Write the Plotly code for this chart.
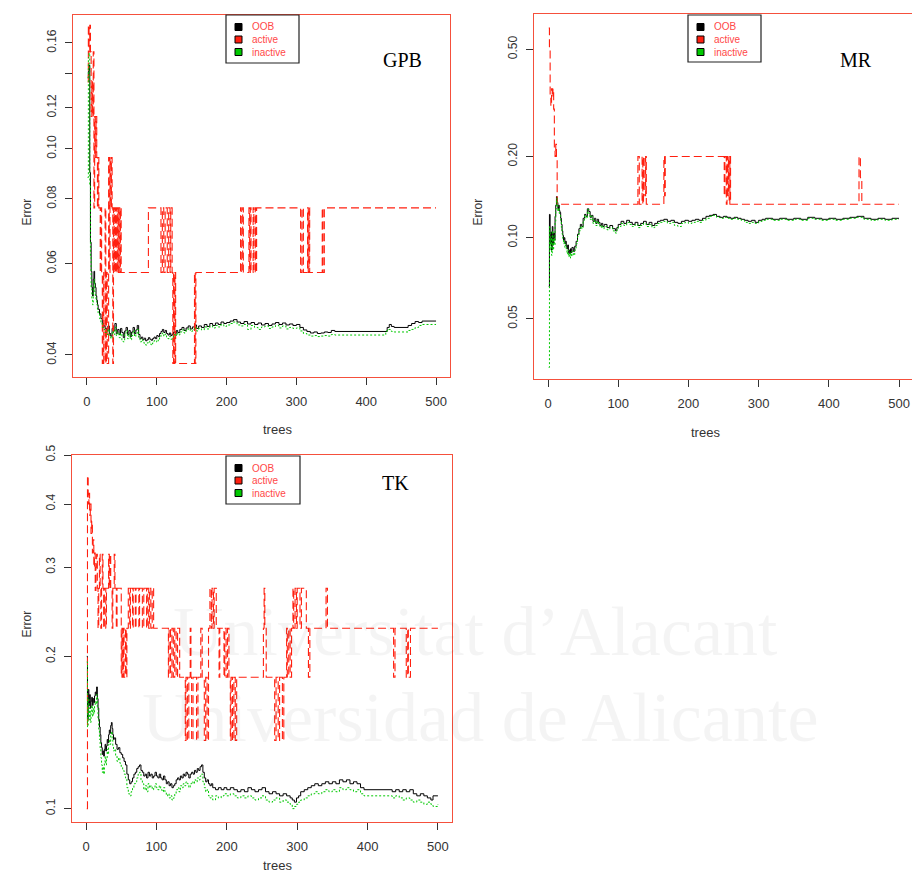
import plotly.graph_objects as go

W, H = 912, 881

# ---------------- data: GPB ----------------
gpb_oob_t = [1, 2, 3, 4, 5, 6, 7, 8, 9, 10, 11, 12, 13, 14, 15, 16, 18, 20, 22, 24, 26, 28, 30, 32, 34, 36, 38, 40,
             42, 44, 46, 48, 50, 52, 54, 56, 58, 60, 62, 64, 66, 68, 70, 72, 74, 76, 78, 80, 82, 84, 86, 88, 90, 92,
             94, 96, 98, 100, 102, 104, 106, 108, 110, 112, 114, 116, 118, 120, 122, 124, 126, 128, 130, 133, 136,
             139, 142, 145, 148, 151, 154, 157, 160, 164, 168, 172, 176, 180, 184, 188, 192, 196, 200, 205, 210,
             215, 220, 225, 230, 235, 240, 245, 250, 255, 260, 265, 270, 275, 280, 285, 290, 295, 300, 305, 310,
             315, 320, 325, 330, 335, 340, 345, 350, 355, 430, 433, 436, 440, 460, 465, 470, 475, 480, 500]
gpb_oob = [.137, .141, .145, .090, .066, .058, .054, .052, .056, .058, .055, .054, .052, .051, .050, .049, .048,
           .047, .046, .0455, .045, .0445, .0455, .044, .0435, .045, .0445, .046, .044, .0448, .0438, .045, .0442,
           .0432, .0445, .0452, .0438, .0446, .0434, .0443, .0452, .0440, .0447, .0456, .0438, .0430, .0433,
           .0428, .0431, .0426, .0428, .0432, .0429, .0427, .0430, .0433, .0430, .0436, .0434, .0440, .0444,
           .0448, .0442, .0446, .0440, .0437, .0441, .0436, .0439, .0443, .0440, .0446, .0442, .0448, .0452,
           .0446, .0451, .0455, .0449, .0453, .0457, .0450, .0455, .0452, .0458, .0454, .0460, .0456, .0461,
           .0458, .0463, .0460, .0462, .0465, .0468, .0463, .0460, .0464, .0459, .0462, .0458, .0461, .0457,
           .0460, .0456, .0459, .0462, .0458, .0461, .0457, .0459, .0456, .0458, .0452, .0447, .0444, .0441,
           .0443, .0440, .0441, .0443, .0442, .0446, .0444, .0452, .0458, .0454, .0452, .0456, .0460, .0464,
           .0462, .0465, .0465]

gpb_act_t = [1, 2, 3, 4, 5, 6, 7, 8, 9, 10, 11, 12, 13, 14, 15, 16, 17, 19, 20, 21, 22, 23, 24, 26, 27, 28, 29,
             31, 32, 33, 34, 35, 36, 37, 38, 39, 40, 41, 42, 43, 44, 45, 46, 47, 48, 49, 88, 106, 108, 110, 112,
             115, 117, 119, 120, 122, 123, 124, 125, 126, 127, 154, 155, 156, 220, 221, 223, 224, 232, 233, 234,
             235, 238, 239, 241, 242, 243, 306, 308, 310, 316, 317, 318, 319, 337, 338, 340, 500]
gpb_act = [.1346, .1731, .1538, .1731, .1538, .1154, .1346, .1154, .1538, .0769, .1154, .0962, .1154, .0962,
           .0769, .0962, .0769, .0577, .0769, .0577, .0385, .0577, .0385, .0769, .0385, .0577, .0385, .0962,
           .0577, .0962, .0769, .0962, .0769, .0385, .0769, .0577, .0769, .0577, .0769, .0577, .0769, .0577,
           .0769, .0577, .0769, .0577, .0769, .0577, .0769, .0577, .0769, .0577, .0769, .0577, .0769, .0577,
           .0385, .0577, .0385, .0577, .0385, .0577, .0385, .0577, .0769, .0577, .0769, .0577, .0769, .0577,
           .0769, .0577, .0769, .0577, .0769, .0577, .0769, .0577, .0769, .0577, .0769, .0577, .0769, .0577,
           .0769, .0577, .0769, .0769]

gpb_ina_t = [1, 2, 3, 4, 5, 6, 7, 8, 9, 10, 11, 12, 13, 14, 15, 16, 18, 20, 22, 24, 26, 28, 30, 32, 34, 36, 38, 40,
             42, 44, 46, 48, 50, 52, 54, 56, 58, 60, 62, 64, 66, 68, 70, 72, 74, 76, 78, 80, 82, 84, 86, 88, 90, 92,
             94, 96, 98, 100, 102, 104, 106, 108, 110, 112, 114, 116, 118, 120, 122, 124, 126, 128, 130, 133, 136,
             139, 142, 145, 148, 151, 154, 157, 160, 164, 168, 172, 176, 180, 184, 188, 192, 196, 200, 205, 210,
             215, 220, 225, 230, 235, 240, 245, 250, 255, 260, 265, 270, 275, 280, 285, 290, 295, 300, 305, 310,
             315, 320, 325, 330, 335, 340, 345, 350, 355, 428, 432, 436, 440, 460, 465, 470, 475, 480, 500]
gpb_ina = [.088, .150, .153, .085, .062, .054, .051, .050, .053, .056, .053, .052, .051, .050, .049, .048, .047,
           .046, .0452, .0448, .0442, .0438, .0448, .0436, .0430, .0444, .0438, .0452, .0436, .0442, .0432, .0440,
           .0425, .0424, .0438, .0446, .0430, .0440, .0428, .0436, .0446, .0434, .0440, .0448, .0432, .0424,
           .0428, .0423, .0420, .0418, .0422, .0425, .0420, .0418, .0422, .0426, .0424, .0428, .0426, .0432,
           .0438, .0441, .0435, .0439, .0433, .0430, .0434, .0429, .0433, .0438, .0435, .0441, .0437, .0443,
           .0447, .0441, .0446, .0450, .0444, .0448, .0452, .0445, .0450, .0447, .0453, .0449, .0455, .0451,
           .0456, .0453, .0458, .0454, .0457, .0460, .0463, .0457, .0455, .0458, .0448, .0456, .0452, .0448,
           .0453, .0455, .0450, .0453, .0456, .0451, .0455, .0449, .0452, .0450, .0451, .0445, .0440, .0437,
           .0435, .0436, .0434, .0435, .0436, .0435, .0438, .0437, .0445, .0448, .0444, .0443, .0446, .0448,
           .0452, .0456, .0458, .0458]

# ---------------- data: MR ----------------
mr_oob_t = [1, 2, 3, 4, 5, 6, 7, 8, 9, 10, 11, 12, 13, 14, 15, 16, 17, 18, 19, 20, 21, 22, 23, 24, 25, 26, 27,
            28, 29, 30, 31, 32, 33, 34, 36, 38, 40, 42, 44, 46, 48, 50, 52, 54, 56, 58, 60, 62, 64, 66, 68, 70,
            72, 74, 76, 78, 80, 84, 88, 92, 96, 98, 100, 104, 108, 112, 116, 120, 124, 128, 132, 136, 140, 144,
            148, 152, 156, 160, 165, 170, 175, 180, 185, 190, 195, 200, 205, 210, 215, 220, 225, 230, 235, 240,
            245, 250, 255, 260, 265, 270, 275, 280, 285, 290, 295, 300, 305, 310, 320, 330, 340, 350, 360, 370,
            380, 390, 400, 410, 420, 430, 440, 450, 460, 470, 480, 490, 500]
mr_oob = [.066, .122, .095, .105, .090, .110, .094, .104, .098, .120, .132, .142, .135, .128, .132, .126, .124,
          .118, .112, .106, .102, .098, .100, .095, .097, .093, .091, .094, .088, .090, .087, .091, .088, .092,
          .089, .093, .097, .103, .108, .112, .110, .118, .122, .120, .128, .125, .119, .121, .115, .118, .113,
          .117, .114, .111, .113, .110, .112, .109, .111, .108, .106, .109, .112, .115, .113, .116, .114, .112,
          .114, .111, .113, .115, .112, .114, .111, .113, .115, .116, .117, .115, .116, .114, .113, .115, .116,
          .115, .116, .117, .116, .118, .120, .121, .122, .120, .119, .120, .119, .118, .119, .118, .117, .116,
          .115, .116, .114, .116, .117, .118, .117, .118, .117, .118, .117, .119, .118, .117, .118, .117, .118,
          .119, .120, .118, .117, .118, .117, .118, .118]

mr_act_t = [1, 2, 3, 4, 5, 6, 7, 8, 9, 10, 11, 12, 13, 128, 130, 134, 135, 136, 138, 139, 140, 165, 166, 167,
            251, 252, 254, 255, 256, 257, 258, 259, 260, 443, 445, 447, 500]
mr_act = [.600, .500, .333, .308, .357, .333, .357, .300, .214, .200, .222, .200, .133, .200, .133, .200, .133,
          .200, .143, .200, .133, .200, .143, .200, .143, .200, .133, .200, .143, .200, .133, .200, .133, .200,
          .167, .133, .133]

mr_ina_t = mr_oob_t
mr_ina = [.033, .110, .090, .100, .086, .106, .090, .100, .094, .115, .128, .140, .132, .125, .129, .123, .121,
          .115, .109, .103, .099, .095, .097, .092, .094, .090, .087, .090, .085, .087, .084, .088, .085, .089,
          .086, .090, .095, .101, .106, .110, .108, .116, .121, .118, .127, .123, .117, .120, .113, .116, .111,
          .115, .112, .109, .111, .108, .110, .107, .109, .106, .104, .107, .110, .113, .111, .114, .112, .110,
          .112, .109, .111, .113, .110, .112, .109, .111, .113, .114, .115, .113, .114, .111, .110, .113, .114,
          .113, .114, .115, .114, .116, .118, .120, .121, .119, .118, .119, .118, .117, .118, .117, .116, .114,
          .113, .114, .113, .115, .116, .117, .116, .117, .116, .117, .116, .118, .117, .116, .117, .116, .117,
          .118, .119, .117, .116, .117, .116, .117, .117]

# ---------------- data: TK ----------------
tk_oob_t = [1, 2, 3, 4, 5, 6, 7, 8, 9, 10, 11, 12, 13, 14, 15, 16, 17, 18, 19, 20, 21, 22, 23, 24, 25, 26, 27,
            28, 29, 30, 31, 32, 33, 34, 35, 36, 37, 38, 39, 40, 42, 44, 46, 48, 50, 52, 54, 56, 58, 60, 62, 64,
            66, 68, 70, 72, 74, 76, 78, 80, 82, 84, 86, 88, 90, 92, 94, 96, 98, 100, 102, 104, 106, 108, 110, 112,
            114, 116, 118, 120, 122, 124, 126, 128, 130, 132, 134, 136, 138, 140, 142, 144, 146, 148, 150, 152,
            154, 156, 158, 160, 162, 164, 166, 168, 170, 172, 174, 176, 178, 180, 184, 188, 192, 196, 200, 205,
            210, 215, 220, 225, 230, 235, 240, 245, 250, 255, 260, 265, 270, 275, 280, 285, 290, 293, 296, 299,
            302, 305, 310, 315, 320, 325, 330, 335, 340, 345, 350, 355, 360, 365, 370, 375, 380, 385, 390, 395,
            435, 440, 445, 450, 455, 460, 465, 470, 475, 480, 485, 490, 493, 500]
tk_oob = [.200, .150, .172, .160, .168, .158, .163, .166, .160, .165, .162, .167, .170, .168, .174, .165, .158,
          .150, .145, .140, .135, .132, .128, .130, .127, .131, .134, .130, .133, .137, .135, .140, .143, .141,
          .146, .148, .144, .140, .137, .138, .134, .131, .132, .129, .128, .126, .124, .122, .117, .114, .112,
          .113, .115, .117, .118, .120, .121, .122, .119, .118, .116, .117, .115, .118, .116, .117, .115, .116,
          .118, .116, .115, .117, .115, .114, .116, .114, .112, .113, .111, .112, .110, .111, .112, .114, .115,
          .114, .116, .115, .117, .116, .118, .117, .115, .117, .118, .117, .119, .118, .120, .119, .121, .122,
          .118, .115, .113, .114, .112, .111, .112, .110, .109, .110, .109, .110, .109, .110, .109, .108, .109,
          .108, .110, .109, .108, .109, .110, .108, .107, .108, .107, .106, .107, .106, .105, .104, .103, .105,
          .106, .108, .109, .110, .111, .112, .111, .112, .113, .112, .113, .112, .114, .113, .114, .112, .113,
          .112, .110, .109, .108, .109, .108, .109, .108, .109, .107, .106, .107, .106, .105, .104, .106, .106]

tk_act_t = [1, 2, 3, 4, 5, 6, 7, 8, 9, 10, 11, 12, 13, 14, 15, 16, 17, 18, 19, 20, 21, 22, 23, 24, 25, 26, 28,
            29, 32, 33, 34, 35, 37, 38, 40, 41, 43, 44, 50, 51, 52, 53, 54, 56, 57, 58, 60, 62, 63, 66, 67, 70,
            71, 75, 76, 80, 82, 86, 87, 89, 90, 92, 94, 96, 117, 118, 120, 122, 124, 126, 128, 130, 133, 141,
            142, 144, 146, 148, 149, 150, 152, 157, 159, 163, 165, 168, 170, 172, 174, 176, 178, 179, 181, 182,
            185, 189, 190, 196, 197, 199, 201, 203, 205, 206, 208, 210, 212, 214, 252, 253, 254, 256, 268, 270,
            273, 275, 279, 281, 285, 286, 288, 290, 292, 294, 295, 297, 299, 300, 304, 306, 313, 316, 318, 341,
            343, 437, 439, 455, 457, 458, 461, 500]
tk_act = [.100, .455, .400, .420, .380, .400, .350, .370, .320, .340, .300, .320, .270, .300, .3182, .2727,
          .2273, .2727, .3182, .2727, .2273, .2727, .3182, .2727, .2273, .2727, .2273, .2727, .3182, .2727,
          .3182, .2727, .2273, .2727, .3182, .2727, .2273, .2727, .1818, .2273, .1818, .2273, .1818, .2273,
          .1818, .2273, .2727, .2273, .2727, .2273, .2727, .2273, .2727, .2273, .2727, .2273, .2727, .2273,
          .2727, .2273, .2727, .2273, .2727, .2273, .1818, .2273, .1818, .2273, .1818, .2273, .1818, .2273,
          .1818, .1364, .1818, .1364, .1818, .2273, .1818, .1364, .1818, .1364, .1818, .2273, .1818, .1364,
          .1818, .1364, .2273, .2727, .2273, .2727, .2273, .2727, .2273, .1818, .2273, .1818, .2273, .1818,
          .2273, .1818, .1364, .1818, .1364, .1818, .1364, .1818, .2273, .2727, .2273, .1818, .1364, .1818,
          .1364, .1818, .1364, .1818, .2273, .1818, .2273, .1818, .2273, .2727, .2273, .2727, .2273, .2727,
          .2273, .2727, .2273, .1818, .2273, .2727, .2273, .1818, .2273, .1818, .2273, .1818, .2273, .2273]

tk_ina_t = tk_oob_t
tk_ina = [.195, .145, .165, .150, .158, .148, .155, .160, .152, .158, .154, .160, .163, .161, .168, .158, .150,
          .143, .137, .131, .126, .122, .118, .121, .117, .123, .127, .122, .126, .131, .128, .134, .137, .134,
          .140, .142, .137, .133, .130, .131, .127, .124, .126, .123, .121, .119, .117, .115, .110, .107, .106,
          .108, .110, .112, .113, .115, .117, .118, .114, .112, .109, .111, .108, .112, .110, .111, .109, .110,
          .112, .110, .109, .111, .109, .108, .110, .108, .106, .107, .105, .106, .104, .105, .107, .109, .110,
          .108, .111, .110, .112, .111, .113, .112, .110, .112, .113, .112, .114, .113, .115, .114, .116, .117,
          .113, .110, .108, .109, .106, .105, .106, .104, .106, .105, .106, .107, .106, .107, .106, .105, .106,
          .105, .106, .105, .104, .105, .106, .104, .103, .104, .105, .103, .104, .103, .102, .100, .101, .102,
          .103, .104, .105, .106, .107, .108, .107, .108, .109, .108, .109, .108, .110, .109, .110, .109, .108,
          .109, .107, .106, .105, .106, .105, .104, .105, .104, .103, .104, .103, .102, .103, .102, .101, .102]

# ---------------- axis / label data ----------------
x_ticks = [0, 100, 200, 300, 400, 500]
gpb_yticks = [0.04, 0.06, 0.08, 0.10, 0.12, 0.14, 0.16]
gpb_ylabels = ["0.04", "0.06", "0.08", "0.10", "0.12", "", "0.16"]
mr_yticks = [0.05, 0.10, 0.20, 0.50]
mr_ylabels = ["0.05", "0.10", "0.20", "0.50"]
tk_yticks = [0.1, 0.2, 0.3, 0.4, 0.5]
tk_ylabels = ["0.1", "0.2", "0.3", "0.4", "0.5"]
series_names = ["OOB", "active", "inactive"]
panel_titles = ["GPB", "MR", "TK"]

BOX = "#F5503C"
RED = "#FF2010"
GREEN = "#00C800"
TXT = "#333333"


def px(x):
    return x / W


def py(y):
    return 1 - y / H


fig = go.Figure()

panels = [
    ("x", "y", gpb_oob_t, gpb_oob, gpb_act_t, gpb_act, gpb_ina_t, gpb_ina),
    ("x2", "y2", mr_oob_t, mr_oob, mr_act_t, mr_act, mr_ina_t, mr_ina),
    ("x3", "y3", tk_oob_t, tk_oob, tk_act_t, tk_act, tk_ina_t, tk_ina),
]
for xa, ya, ot, ov, at, av, it, iv in panels:
    fig.add_trace(go.Scatter(x=ot, y=ov, xaxis=xa, yaxis=ya, mode="lines", line_shape="hv",
                             line=dict(color="black", width=1), showlegend=False, hoverinfo="skip"))
    fig.add_trace(go.Scatter(x=at, y=av, xaxis=xa, yaxis=ya, mode="lines", line_shape="hv",
                             line=dict(color=RED, width=1.1, dash="8px,4px"), showlegend=False,
                             hoverinfo="skip"))
    fig.add_trace(go.Scatter(x=it, y=iv, xaxis=xa, yaxis=ya, mode="lines", line_shape="hv",
                             line=dict(color=GREEN, width=1, dash="2px,2px"), showlegend=False, hoverinfo="skip"))

tickfont = dict(family="Liberation Sans, Arial, sans-serif", size=13, color=TXT)


def xax(dom, anchor):
    return dict(domain=dom, anchor=anchor, range=[-20, 520], tickvals=x_ticks, ticks="outside", ticklen=7,
                tickcolor=TXT, showline=True, linecolor=BOX, linewidth=1.2, mirror=True, showgrid=False,
                zeroline=False, tickfont=tickfont, ticklabelstandoff=5)


def yax(dom, anchor, rng, tv, tt):
    return dict(domain=dom, anchor=anchor, type="log", range=rng, tickvals=tv, ticktext=tt, ticks="outside",
                ticklen=7, tickcolor=TXT, tickangle=-90, showline=True, linecolor=BOX, linewidth=1.2,
                mirror=True, showgrid=False, zeroline=False, ticklabelstandoff=4,
                tickfont=dict(family="Liberation Sans, Arial, sans-serif", size=12, color=TXT))


fig.update_layout(
    width=W, height=H, margin=dict(l=0, r=0, t=0, b=0, autoexpand=False), paper_bgcolor="white",
    plot_bgcolor="rgba(0,0,0,0)",
    xaxis=xax([px(73), px(450)], "y"),
    yaxis=yax([py(377), py(15)], "x", [-1.4405, -0.7419], gpb_yticks, gpb_ylabels),
    xaxis2=xax([px(534), 1.0], "y2"),
    yaxis2=yax([py(379), py(14)], "x2", [-1.5243, -0.1701], mr_yticks, mr_ylabels),
    xaxis3=xax([px(72), px(452)], "y3"),
    yaxis3=yax([py(822), py(455)], "x3", [-1.0264, -0.3010], tk_yticks, tk_ylabels),
)
fig.update_layout(xaxis2=dict(range=[-20, 518.5]))

annotations = []
shapes = []

# watermark
wm = "rgba(0,0,0,0.042)"
annotations.append(dict(x=px(475), y=py(672), xref="paper", yref="paper", text="Universitat d’Alacant",
                        showarrow=False, font=dict(family="Liberation Serif", size=70, color=wm)))
annotations.append(dict(x=px(480), y=py(758), xref="paper", yref="paper", text="Universidad de Alicante",
                        showarrow=False, font=dict(family="Liberation Serif", size=70, color=wm)))

# axis titles
axis_title_pos = [((17, 197), (261, 429)), ((477, 197), (722, 432)), ((17, 640), (261, 875))]
for (ex, ey), (tx, ty) in axis_title_pos:
    annotations.append(dict(x=px(ex), y=py(ey), xref="paper", yref="paper", text="Error", textangle=-90,
                            showarrow=False, font=dict(family="Liberation Sans, Arial", size=12, color=TXT)))
    annotations.append(dict(x=px(tx), y=py(ty), xref="paper", yref="paper", text="trees", showarrow=False,
                            font=dict(family="Liberation Sans, Arial", size=13, color=TXT)))

# panel titles
title_pos = [(402, 47), (874, 47), (395, 483)]
for name, (tx, ty) in zip(panel_titles, title_pos):
    annotations.append(dict(x=px(tx), y=py(ty), xref="paper", yref="paper", text=name, showarrow=False,
                            font=dict(family="Liberation Serif, Times New Roman, serif", size=20, color="black")))

# legends
legend_boxes = [(226, 15, 299, 63), (688, 15, 761, 62), (226, 456, 300, 504)]
sw_colors = ["black", RED, GREEN]
for (x0, y0, x1, y1) in legend_boxes:
    shapes.append(dict(type="rect", xref="paper", yref="paper", x0=px(x0), x1=px(x1), y0=py(y0), y1=py(y1),
                       line=dict(color="#222", width=1.2), fillcolor="white", layer="above"))
    for i, (nm, c) in enumerate(zip(series_names, sw_colors)):
        cy = y0 + 12 + 12.5 * i
        shapes.append(dict(type="rect", xref="paper", yref="paper", x0=px(x0 + 9), x1=px(x0 + 16),
                           y0=py(cy - 3.5), y1=py(cy + 3.5), line=dict(color="black", width=1), fillcolor=c,
                           layer="above"))
        annotations.append(dict(x=px(x0 + 24), y=py(cy), xref="paper", yref="paper", text=nm, showarrow=False,
                                xanchor="left", yanchor="middle",
                                font=dict(family="Liberation Sans, Arial", size=10, color="#FF4848")))

fig.update_layout(annotations=annotations, shapes=shapes)
fig.write_html("out.html", config={"displayModeBar": False},
               post_script="document.body.style.margin='0';document.body.style.overflow='hidden';")
